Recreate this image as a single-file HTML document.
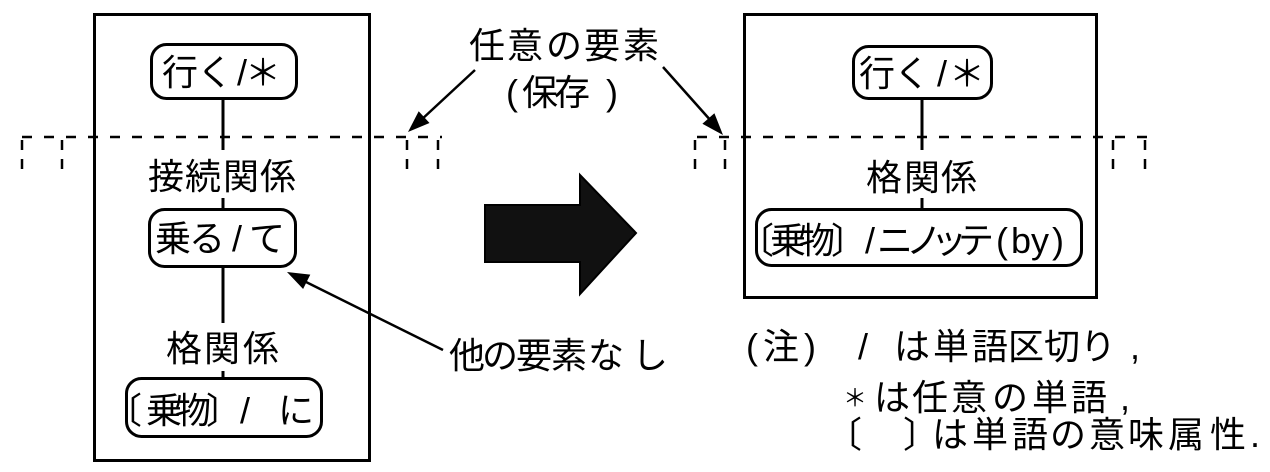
<!DOCTYPE html>
<html>
<head>
<meta charset="utf-8">
<style>
html,body{margin:0;padding:0;background:#fff;}
svg{display:block;}
text{font-family:"Liberation Sans","Noto Sans CJK JP",sans-serif;font-size:36px;fill:#000;}
</style>
</head>
<body>
<svg width="1270" height="472" viewBox="0 0 1270 472" xmlns="http://www.w3.org/2000/svg">
<rect x="0" y="0" width="1270" height="472" fill="#fff"/>

<!-- boxes -->
<rect x="94.5" y="14.5" width="275" height="446" fill="none" stroke="#000" stroke-width="3"/>
<rect x="744.5" y="14.5" width="352" height="283" fill="none" stroke="#000" stroke-width="3"/>

<!-- dashed lines -->
<g stroke="#000" stroke-width="2.5" fill="none" stroke-dasharray="10 12">
  <line x1="22" y1="137" x2="442" y2="137"/>
  <line x1="697" y1="137" x2="1147" y2="137"/>
</g>
<g stroke="#000" stroke-width="2.5" fill="none" stroke-dasharray="10 9">
  <line x1="22" y1="140" x2="22" y2="169"/>
  <line x1="62" y1="140" x2="62" y2="169"/>
  <line x1="407" y1="140" x2="407" y2="169"/>
  <line x1="438" y1="140" x2="438" y2="169"/>
  <line x1="695" y1="140" x2="695" y2="176"/>
  <line x1="725" y1="140" x2="725" y2="176"/>
  <line x1="1113" y1="140" x2="1113" y2="176"/>
  <line x1="1145" y1="140" x2="1145" y2="176"/>
</g>

<!-- nodes -->
<g fill="#fff" stroke="#000" stroke-width="3">
  <rect x="151.5" y="44.5" width="145" height="54" rx="15"/>
  <rect x="149.5" y="209.5" width="146" height="57" rx="15"/>
  <rect x="126.5" y="378.5" width="195" height="58" rx="15"/>
  <rect x="853.5" y="46.5" width="138" height="52" rx="15"/>
  <rect x="756.5" y="209.5" width="325" height="56" rx="15"/>
</g>

<!-- connectors -->
<g stroke="#000" stroke-width="3">
  <line x1="223" y1="100" x2="223" y2="150"/>
  <line x1="223" y1="198" x2="223" y2="208"/>
  <line x1="223" y1="268" x2="223" y2="323"/>
  <line x1="223" y1="371" x2="223" y2="377"/>
  <line x1="922" y1="99" x2="922" y2="150"/>
  <line x1="922" y1="198" x2="922" y2="208"/>
</g>

<!-- pointer arrows -->
<g stroke="#000" stroke-width="2.5">
  <line x1="475" y1="70" x2="420" y2="121"/>
  <line x1="663" y1="67" x2="712" y2="122"/>
  <line x1="443" y1="350" x2="300" y2="279"/>
</g>
<g fill="#000">
  <polygon points="408,132 418.7,111.2 429.5,123"/>
  <polygon points="723,135 702.4,123.8 714.4,113.2"/>
  <polygon points="287,272 310.3,274.6 303.1,289"/>
</g>

<!-- big arrow -->
<polygon points="485,205 580,205 580,175 636,233 580,294 580,262 485,262" fill="#111" stroke="#000" stroke-width="2"/>

<!-- left box text -->
<text x="180 215 242 263" y="85" text-anchor="middle">行く/＊</text>
<text x="166 203 241 278" y="189" text-anchor="middle">接続関係</text>
<text x="173 207 237 267" y="251" text-anchor="middle">乗る/て</text>
<text x="184 222 261" y="361" text-anchor="middle">格関係</text>
<text x="124 164 193 224 245 296" y="423" text-anchor="middle">〔乗物〕/に</text>

<!-- right box text -->
<text x="877 912 942 967" y="86" text-anchor="middle">行く/＊</text>
<text x="884 922 959" y="190" text-anchor="middle">格関係</text>
<text x="756 788 817 849 870 895 924 949 976 1002 1021 1040 1058" y="253" text-anchor="middle">〔乗物〕/ニノッテ(by)</text>

<!-- middle labels -->
<text x="487 525 564 602 641" y="58" text-anchor="middle">任意の要素</text>
<text x="512 540 572 612" y="105" text-anchor="middle">(保存)</text>
<text x="467 500 534 569 606 650" y="368" text-anchor="middle">他の要素なし</text>

<!-- notes -->
<text x="752 781 810 863 912 951 990 1026 1062 1098 1135" y="359" text-anchor="middle">(注)/は単語区切り,</text>
<text x="855" y="406" text-anchor="middle" style="font-size:24px">＊</text>
<text x="892 930 969 1010 1050 1089 1125" y="410" text-anchor="middle">は任意の単語,</text>
<text x="844 921 950 990 1030 1068 1107 1146 1186 1228 1255" y="447" text-anchor="middle">〔〕は単語の意味属性.</text>
</svg>
</body>
</html>
